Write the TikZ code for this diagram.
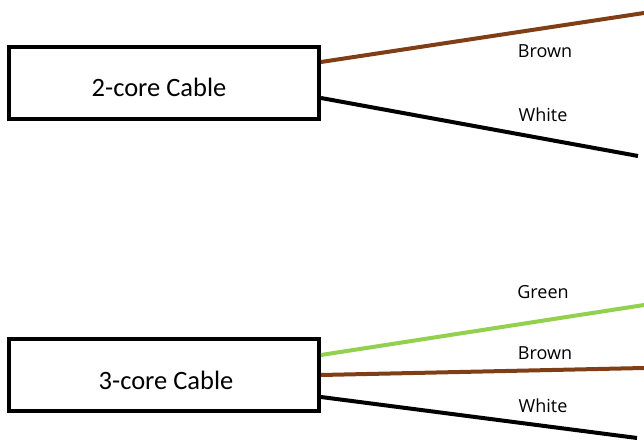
\documentclass[tikz,border=0pt]{standalone}
\usepackage{fontspec}
\setmainfont{Carlito}
\newfontfamily\labelfont{Open Sans}
\usepackage{tikz}
\definecolor{wirebrown}{RGB}{128, 62, 22}
\definecolor{wiregreen}{RGB}{146, 208, 80}
\tikzset{%
    cablebox/.style={draw, line width=4bp, minimum width=310bp,
        minimum height=72bp, inner sep=0},
    boxtext/.style={font=\fontsize{26.5bp}{30bp}\selectfont, inner sep=0},
    wire/.style={line width=4bp},
    wirelabel/.style={font=\labelfont\fontsize{18bp}{20bp}\selectfont,
        inner sep=0}
}

\begin{document}
\begin{tikzpicture}[x=1bp, y=-1bp]

    \useasboundingbox (0, 0) rectangle (644, 444);

    \node[cablebox, label={[boxtext, xshift=-5bp, yshift=-4bp]center:2-core Cable}]
        (twocore) at (164, 83) {};
    \node[cablebox, label={[boxtext, xshift=2bp, yshift=-5bp]center:3-core Cable}]
        (threecore) at (164, 375) {};

    \coordinate (twobrownend) at (644, 13);
    \coordinate (twowhiteend) at (638, 156);
    \coordinate (threegreenend) at (644, 305);
    \coordinate (threebrownend) at (644, 368);
    \coordinate (threewhiteend) at (637, 438);

    \draw[wire, wirebrown] ([yshift=21bp] twocore.east) -- (twobrownend);
    \draw[wire, black] ([yshift=-15bp] twocore.east) -- (twowhiteend);

    \draw[wire, wiregreen] ([yshift=20bp] threecore.east) -- (threegreenend);
    \draw[wire, wirebrown] (threecore.east) -- (threebrownend);
    \draw[wire, black] ([yshift=-22bp] threecore.east) -- (threewhiteend);

    \node[wirelabel] (twobrown) at (545, 51) {Brown};
    \node[wirelabel] (twowhite) at (543, 115) {White};
    \node[wirelabel] (threegreen) at (543, 292) {Green};
    \node[wirelabel] (threebrown) at (545, 353) {Brown};
    \node[wirelabel] (threewhite) at (543, 406) {White};

\end{tikzpicture}
\end{document}
